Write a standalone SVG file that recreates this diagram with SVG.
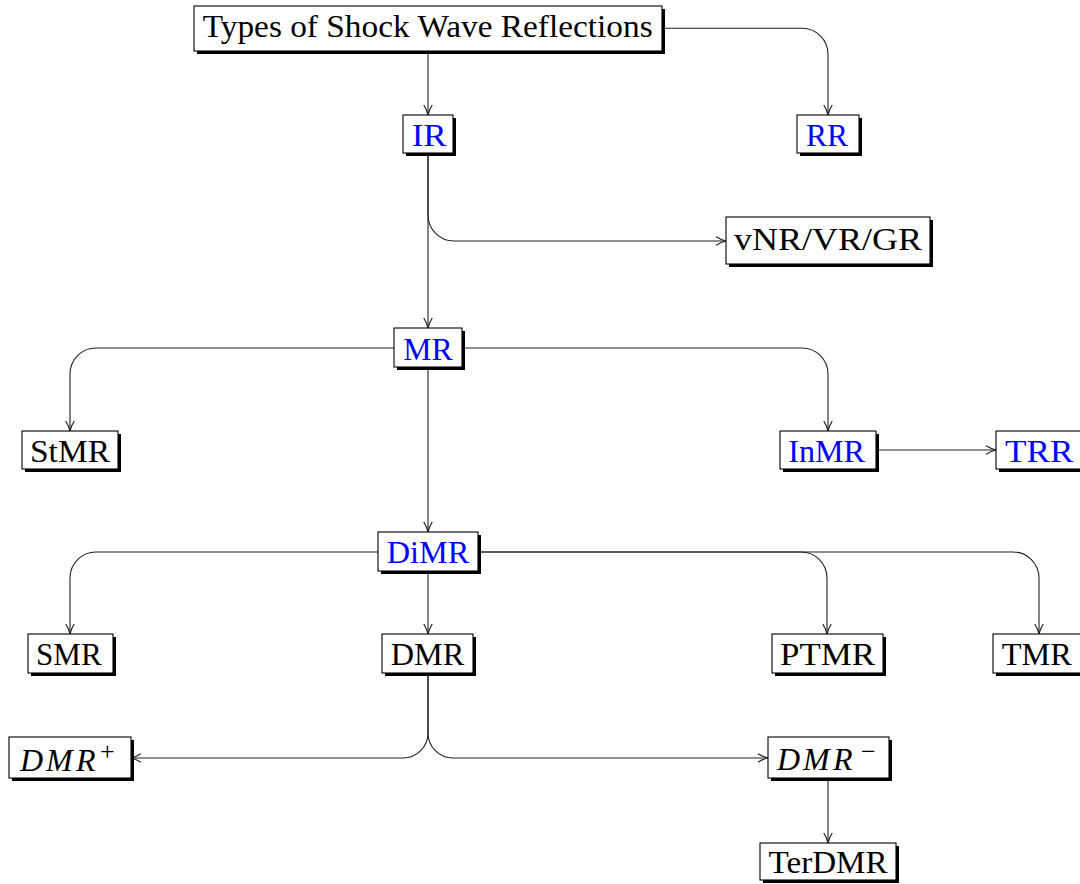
<svg xmlns="http://www.w3.org/2000/svg" width="1080" height="884" viewBox="0 0 1080 884">
<style>
.sh{fill:#000;stroke:none}
.box{fill:#fff;stroke:#000;stroke-width:1.1}
.t{font-family:"Liberation Serif","DejaVu Serif",serif;font-size:32px;fill:#000}
.b{fill:#0000ff}
.it{font-style:italic}
.sup{font-size:26px;font-style:normal}
.c{fill:none;stroke:#222;stroke-width:1.1}
.c.a{marker-end:url(#arr)}
</style>
<defs>
<marker id="arr" markerUnits="userSpaceOnUse" markerWidth="14" markerHeight="12" viewBox="-12 -6 14 12" refX="0" refY="0" orient="auto" overflow="visible">
<path d="M-10,-4.2 C-6,-1.8 -2,-0.4 0,0 C-2,0.4 -6,1.8 -10,4.2" fill="none" stroke="#222" stroke-width="1.2"/>
</marker>
</defs>
<rect width="1080" height="884" fill="#fff"/>
<g id="connectors">
<path class="c a" d="M428,51 V115"/>
<path class="c a" d="M662,28.3 H802 A26,26 0 0 1 828,54.3 V115"/>
<path class="c a" d="M428,153 V328"/>
<path class="c a" d="M428,153 V215 A26,26 0 0 0 454,241 H726"/>
<path class="c a" d="M394,348 H96 A26,26 0 0 0 70,374 V431"/>
<path class="c a" d="M462,348 H802 A26,26 0 0 1 828,374 V431"/>
<path class="c a" d="M428,367 V532"/>
<path class="c a" d="M876,450 H996"/>
<path class="c a" d="M378,552 H96 A26,26 0 0 0 70,578 V634"/>
<path class="c a" d="M428,571 V634"/>
<path class="c a" d="M478,552 H801 A26,26 0 0 1 827,578 V634"/>
<path class="c a" d="M478,552 H1013 A26,26 0 0 1 1039,578 V634"/>
<path class="c a" d="M428,673 V733 A25,25 0 0 1 403,758 H131"/>
<path class="c a" d="M428,673 V733 A25,25 0 0 0 453,758 H768"/>
<path class="c a" d="M828,778 V843"/>
</g>
<g id="n-top"><rect class="sh" x="197" y="9" width="468" height="45"/><rect class="box" x="194" y="6" width="468" height="45"/><text class="t" x="202.7" y="37" textLength="450" lengthAdjust="spacingAndGlyphs">Types of Shock Wave Reflections</text></g>
<g id="n-IR"><rect class="sh" x="406" y="118" width="50" height="38"/><rect class="box" x="403" y="115" width="50" height="38"/><text class="t b" x="411.7" y="146" textLength="35" lengthAdjust="spacingAndGlyphs">IR</text></g>
<g id="n-RR"><rect class="sh" x="800" y="118" width="62" height="38"/><rect class="box" x="797" y="115" width="62" height="38"/><text class="t b" x="806" y="146" textLength="42" lengthAdjust="spacingAndGlyphs">RR</text></g>
<g id="n-vNR"><rect class="sh" x="729" y="220" width="204" height="47"/><rect class="box" x="726" y="217" width="204" height="47"/><text class="t" x="734" y="250" textLength="188" lengthAdjust="spacingAndGlyphs">vNR/VR/GR</text></g>
<g id="n-MR"><rect class="sh" x="397" y="331" width="68" height="39"/><rect class="box" x="394" y="328" width="68" height="39"/><text class="t b" x="403.3" y="359.5" textLength="49.4" lengthAdjust="spacingAndGlyphs">MR</text></g>
<g id="n-StMR"><rect class="sh" x="25" y="434" width="96" height="38"/><rect class="box" x="22" y="431" width="96" height="38"/><text class="t" x="30" y="462" textLength="80" lengthAdjust="spacingAndGlyphs">StMR</text></g>
<g id="n-InMR"><rect class="sh" x="783" y="434" width="96" height="38"/><rect class="box" x="780" y="431" width="96" height="38"/><text class="t b" x="788.3" y="462" textLength="76.7" lengthAdjust="spacingAndGlyphs">InMR</text></g>
<g id="n-TRR"><rect class="sh" x="999" y="434" width="86" height="38"/><rect class="box" x="996" y="431" width="86" height="38"/><text class="t b" x="1005" y="462" textLength="68.3" lengthAdjust="spacingAndGlyphs">TRR</text></g>
<g id="n-DiMR"><rect class="sh" x="381" y="535" width="100" height="39"/><rect class="box" x="378" y="532" width="100" height="39"/><text class="t b" x="386.7" y="563" textLength="82.6" lengthAdjust="spacingAndGlyphs">DiMR</text></g>
<g id="n-SMR"><rect class="sh" x="31" y="637" width="85" height="39"/><rect class="box" x="28" y="634" width="85" height="39"/><text class="t" x="36" y="665" textLength="65.7" lengthAdjust="spacingAndGlyphs">SMR</text></g>
<g id="n-DMR"><rect class="sh" x="385" y="637" width="91" height="39"/><rect class="box" x="382" y="634" width="91" height="39"/><text class="t" x="390.7" y="665" textLength="73.6" lengthAdjust="spacingAndGlyphs">DMR</text></g>
<g id="n-PTMR"><rect class="sh" x="775" y="637" width="111" height="39"/><rect class="box" x="772" y="634" width="111" height="39"/><text class="t" x="780" y="665" textLength="95" lengthAdjust="spacingAndGlyphs">PTMR</text></g>
<g id="n-TMR"><rect class="sh" x="996" y="637" width="89" height="39"/><rect class="box" x="993" y="634" width="89" height="39"/><text class="t" x="1001.7" y="665" textLength="70" lengthAdjust="spacingAndGlyphs">TMR</text></g>
<g id="n-DMRp"><rect class="sh" x="12" y="740" width="122" height="41"/><rect class="box" x="9" y="737" width="122" height="41"/><text class="t" y="770.7"><tspan class="it" x="20 46 76">DMR</tspan><tspan class="sup" x="100" y="760">+</tspan></text></g>
<g id="n-DMRm"><rect class="sh" x="771" y="740" width="121" height="41"/><rect class="box" x="768" y="737" width="121" height="41"/><text class="t" y="770.3"><tspan class="it" x="777 803 833">DMR</tspan><tspan class="sup" x="861" y="760">−</tspan></text></g>
<g id="n-TerDMR"><rect class="sh" x="763" y="846" width="136" height="37"/><rect class="box" x="760" y="843" width="136" height="37"/><text class="t" x="768.6" y="872.5" textLength="119" lengthAdjust="spacingAndGlyphs">TerDMR</text></g>
</svg>
